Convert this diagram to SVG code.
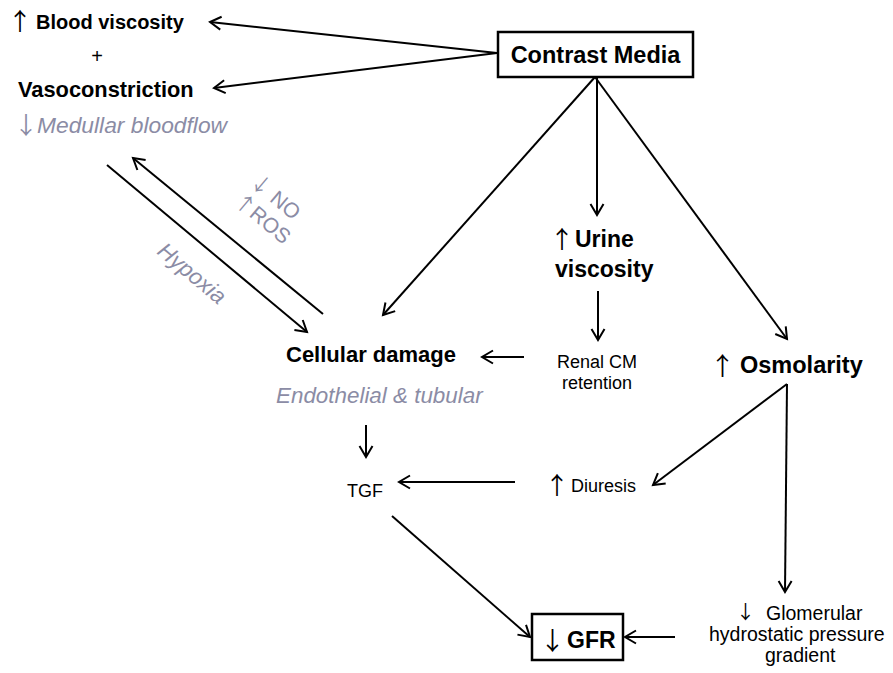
<svg xmlns="http://www.w3.org/2000/svg" width="893" height="673" viewBox="0 0 893 673">
<defs>
<marker id="ah" markerUnits="userSpaceOnUse" markerWidth="16" markerHeight="16" refX="13" refY="8" orient="auto">
<path d="M2,1.5 L13,8 L2,14.5" fill="none" stroke="#000" stroke-width="2"/>
</marker>
</defs>
<style>
text{font-family:"Liberation Sans",Arial,sans-serif;fill:#000}
.b{font-weight:bold}
.g{fill:#8b8ca5;font-style:italic}
.gl{fill:#8b8ca5}
.ar{font-family:"Noto Sans CJK JP","DejaVu Sans",sans-serif;font-weight:normal}
.box{fill:#fff;stroke:#000;stroke-width:2.5}
.c path{fill:none;stroke:#000;stroke-width:2;marker-end:url(#ah)}
</style>
<rect width="893" height="673" fill="#fff"/>
<g class="c" id="connectors">
<path d="M497,53 L210,22"/>
<path d="M497,53 L214,88"/>
<path d="M595,77 L383,315"/>
<path d="M597,77 L597,215"/>
<path d="M595,77 L787,339"/>
<path d="M598,291 L598,340"/>
<path d="M524,357 L482,357"/>
<path d="M107,165 L307,332"/>
<path d="M323,314 L133,158"/>
<path d="M366,425 L366,457"/>
<path d="M515,482 L399,482"/>
<path d="M392,516 L530,637"/>
<path d="M787,384 L653,485"/>
<path d="M787,384 L785,592"/>
<path d="M675,637 L625,637"/>
</g>
<g id="blood">
<text x="8" y="30" font-size="24" class="ar">↑</text>
<text x="36" y="29" font-size="20" class="b">Blood viscosity</text>
</g>
<g id="plus"><text x="97" y="63" font-size="20" text-anchor="middle">+</text></g>
<g id="vaso"><text x="18" y="97" font-size="21.8" class="b">Vasoconstriction</text></g>
<g id="medullar">
<text x="14" y="134" font-size="24" class="ar gl">↓</text>
<text x="37" y="133" font-size="22.8" class="g">Medullar bloodflow</text>
</g>
<g id="contrast">
<rect class="box" x="498" y="32" width="195" height="45"/>
<text x="595.5" y="63" font-size="23.5" class="b" text-anchor="middle">Contrast Media</text>
</g>
<g id="urine">
<text x="550" y="248" font-size="24" class="ar">↑</text>
<text x="575" y="247" font-size="23" class="b">Urine</text>
<text x="555" y="277" font-size="23" class="b">viscosity</text>
</g>
<g id="renal">
<text x="597" y="368" font-size="18" text-anchor="middle">Renal CM</text>
<text x="597" y="389" font-size="18" text-anchor="middle">retention</text>
</g>
<g id="cellular">
<text x="286" y="362" font-size="22" class="b">Cellular damage</text>
<text x="276" y="403" font-size="22.4" class="g">Endothelial &amp; tubular</text>
</g>
<g id="labels">
<text transform="translate(249,184) rotate(40)" font-size="21" class="gl"><tspan class="ar" font-size="20">↓</tspan> NO</text>
<text transform="translate(233,203) rotate(40)" font-size="21" class="gl"><tspan class="ar" font-size="20">↑</tspan>ROS</text>
<text transform="translate(156,253) rotate(40)" font-size="22.5" class="g">Hypoxia</text>
</g>
<g id="tgf"><text x="347" y="497" font-size="18">TGF</text></g>
<g id="diuresis">
<text x="545" y="494" font-size="24" class="ar">↑</text>
<text x="571" y="492" font-size="18">Diuresis</text>
</g>
<g id="osmolarity">
<text x="710" y="375" font-size="25" class="ar">↑</text>
<text x="740" y="373" font-size="23.5" class="b">Osmolarity</text>
</g>
<g id="glomerular">
<text x="736" y="619" font-size="19" class="ar">↓</text>
<text x="766" y="620" font-size="19.5">Glomerular</text>
<text x="709" y="641" font-size="19.5">hydrostatic pressure</text>
<text x="765" y="662" font-size="19.5">gradient</text>
</g>
<g id="gfr">
<rect class="box" x="532" y="614" width="91" height="46"/>
<text x="540" y="650" font-size="25" class="ar">↓</text>
<text x="567" y="648" font-size="23" class="b">GFR</text>
</g>
</svg>
